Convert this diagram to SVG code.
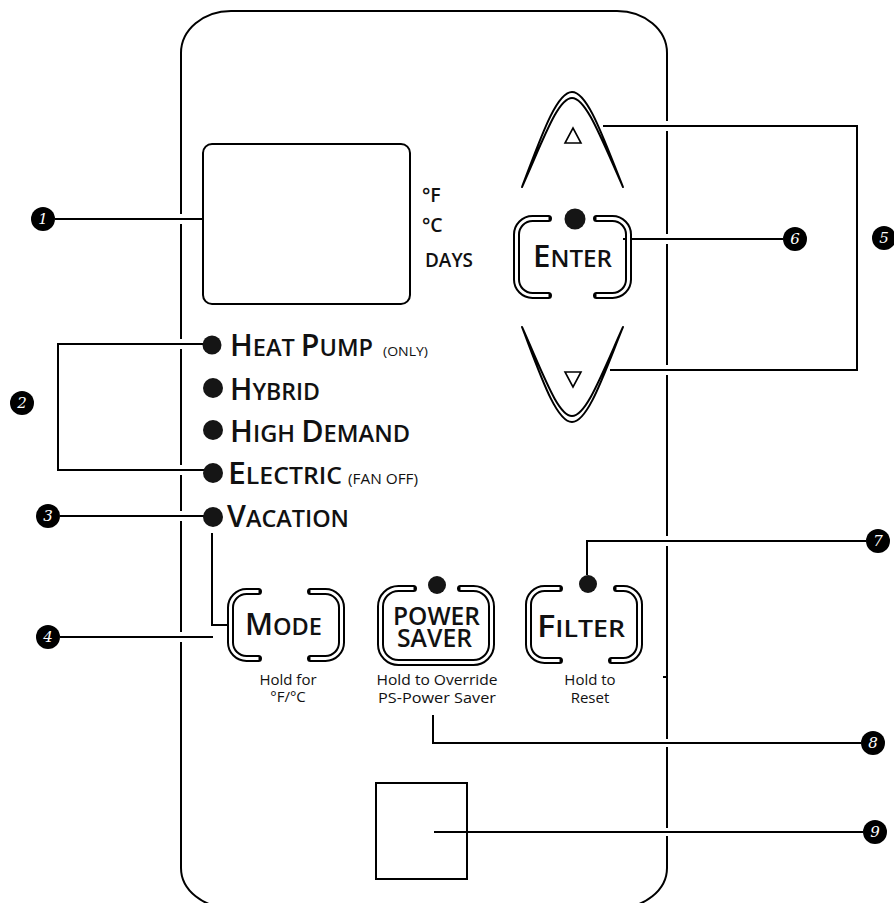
<svg xmlns="http://www.w3.org/2000/svg" width="894" height="903" viewBox="0 0 894 903">
<style>
.ln{fill:none;stroke:#000;stroke-width:2}
.gap{fill:#fff}
.bo{fill:none;stroke:#000;stroke-width:7;stroke-linecap:round;stroke-linejoin:round}
.bi{fill:none;stroke:#fff;stroke-width:3;stroke-linecap:butt;stroke-linejoin:round}
.led{fill:#151515}
.t{font-family:"Open Sans","Liberation Sans",sans-serif;font-weight:600;fill:#111}
.sc{font-size:24px}
.bc{font-size:31px}
.sm{font-family:"Open Sans","Liberation Sans",sans-serif;font-weight:400;fill:#111}
.sub{font-family:"Open Sans","Liberation Sans",sans-serif;font-weight:400;font-size:15px;fill:#111;text-anchor:middle}
.nc{fill:#000}
.nt{font-family:"DejaVu Serif","Liberation Serif",serif;font-style:italic;font-size:15px;fill:#fff;text-anchor:middle}
.arr{fill:#fff;stroke:#000;stroke-width:2;stroke-linejoin:round}
.tri{fill:none;stroke:#000;stroke-width:1.6;stroke-linejoin:miter}
</style>
<rect width="894" height="903" fill="#fff"/>
<g id="panel">
<path class="ln" d="M 231 11 H 617 A 50 42 0 0 1 667 53 V 868 A 50 40 0 0 1 617 908 H 231 A 50 40 0 0 1 181 868 V 53 A 50 42 0 0 1 231 11 Z"/>
<path class="ln" d="M 663 677 H 667" stroke-width="1.5"/>
<g class="gap">
<rect x="178" y="214" width="6" height="10"/>
<rect x="178" y="339" width="6" height="10"/>
<rect x="178" y="465" width="6" height="10"/>
<rect x="178" y="511" width="6" height="10"/>
<rect x="178" y="632" width="6" height="10"/>
<rect x="664" y="121" width="6" height="10"/>
<rect x="664" y="234" width="6" height="10"/>
<rect x="664" y="365" width="6" height="10"/>
<rect x="664" y="536" width="6" height="10"/>
<rect x="664" y="739" width="6" height="8"/>
<rect x="664" y="828" width="6" height="8"/>
</g>
</g>
<g id="connectors">
<path class="ln" d="M 55 219 H 203"/>
<path class="ln" d="M 212 344 H 58 V 470 H 213"/>
<path class="ln" d="M 60 516 H 213"/>
<path class="ln" d="M 212 533 V 625 H 227"/>
<path class="ln" d="M 60 637 H 213"/>
<path class="ln" d="M 603 126 H 857 V 370 H 610"/>
<path class="ln" d="M 623 239 H 783"/>
<path class="ln" d="M 587 575 V 541 H 866"/>
<path class="ln" d="M 433 715 V 743 H 861"/>
<path class="ln" d="M 434 832 H 863"/>
</g>
<g id="display">
<rect class="ln" x="203" y="144" width="207" height="160" rx="9"/>
</g>
<g id="units">
<text class="t" x="422" y="202" font-size="19.5">°F</text>
<text class="t" x="422" y="232" font-size="19.5">°C</text>
<text class="t" x="425" y="267" font-size="19.5" textLength="48" lengthAdjust="spacingAndGlyphs">DAYS</text>
</g>
<g id="mode-leds">
<circle class="led" cx="212" cy="345" r="9.5"/>
<circle class="led" cx="213" cy="388" r="10"/>
<circle class="led" cx="213" cy="430" r="10"/>
<circle class="led" cx="213" cy="473" r="10"/>
<circle class="led" cx="213" cy="517" r="10"/>
<text class="t sc" x="230" y="356" textLength="143" lengthAdjust="spacingAndGlyphs"><tspan class="bc">H</tspan>EAT <tspan class="bc">P</tspan>UMP</text>
<text class="sm" x="383" y="356" font-size="13.5" textLength="45" lengthAdjust="spacingAndGlyphs">(ONLY)</text>
<text class="t sc" x="230" y="400" textLength="90" lengthAdjust="spacingAndGlyphs"><tspan class="bc">H</tspan>YBRID</text>
<text class="t sc" x="230" y="442" textLength="180" lengthAdjust="spacingAndGlyphs"><tspan class="bc">H</tspan>IGH <tspan class="bc">D</tspan>EMAND</text>
<text class="t sc" x="228" y="484" textLength="114" lengthAdjust="spacingAndGlyphs"><tspan class="bc">E</tspan>LECTRIC</text>
<text class="sm" x="348" y="484" font-size="14.5" textLength="70" lengthAdjust="spacingAndGlyphs">(FAN OFF)</text>
<text class="t sc" x="227" y="527" textLength="122" lengthAdjust="spacingAndGlyphs"><tspan class="bc">V</tspan>ACATION</text>
</g>
<g id="up-button">
<path class="arr" d="M 522 187 C 540 140 556 92 572 92 C 588 92 604 140 623 187 C 601 138 586 98 572 98 C 558 98 544 138 522 187 Z"/>
<polygon class="tri" points="565,143 581,143 573,128"/>
</g>
<g id="down-button">
<path class="arr" transform="matrix(1 0 0 -1 0 514)" d="M 522 187 C 540 140 556 92 572 92 C 588 92 604 140 623 187 C 601 138 586 98 572 98 C 558 98 544 138 522 187 Z"/>
<polygon class="tri" points="565,372 581,372 573,387"/>
</g>
<g id="enter-button">
<path class="bo" d="M 596.5 218.5 H 612.5 A 16 16 0 0 1 628.5 234.5 V 279.5 A 16 16 0 0 1 612.5 295.5 H 596.5 M 548.5 295.5 H 532.5 A 16 16 0 0 1 516.5 279.5 V 234.5 A 16 16 0 0 1 532.5 218.5 H 548.5"/>
<path class="bi" d="M 596.5 218.5 H 612.5 A 16 16 0 0 1 628.5 234.5 V 279.5 A 16 16 0 0 1 612.5 295.5 H 596.5 M 548.5 295.5 H 532.5 A 16 16 0 0 1 516.5 279.5 V 234.5 A 16 16 0 0 1 532.5 218.5 H 548.5"/>
<circle class="led" cx="575" cy="219" r="10.5"/>
<text class="t sc" x="533" y="267" textLength="79" lengthAdjust="spacingAndGlyphs"><tspan class="bc">E</tspan>NTER</text>
</g>
<g id="mode-button">
<path class="bo" d="M 310.5 591.5 H 325.5 A 16 16 0 0 1 341.5 607.5 V 642.5 A 16 16 0 0 1 325.5 658.5 H 310.5 M 258.5 658.5 H 246.5 A 16 16 0 0 1 230.5 642.5 V 607.5 A 16 16 0 0 1 246.5 591.5 H 258.5"/>
<path class="bi" d="M 310.5 591.5 H 325.5 A 16 16 0 0 1 341.5 607.5 V 642.5 A 16 16 0 0 1 325.5 658.5 H 310.5 M 258.5 658.5 H 246.5 A 16 16 0 0 1 230.5 642.5 V 607.5 A 16 16 0 0 1 246.5 591.5 H 258.5"/>
<text class="t sc" x="245" y="635" textLength="77" lengthAdjust="spacingAndGlyphs"><tspan class="bc">M</tspan>ODE</text>
<text class="sub" x="288" y="685">Hold for</text>
<text class="sub" x="288" y="702">°F/°C</text>
</g>
<g id="power-saver-button">
<path class="bo" d="M 460.5 588.5 H 473.5 A 18 18 0 0 1 491.5 606.5 V 644.5 A 18 18 0 0 1 473.5 662.5 H 398.5 A 18 18 0 0 1 380.5 644.5 V 606.5 A 18 18 0 0 1 398.5 588.5 H 413.5"/>
<path class="bi" d="M 460.5 588.5 H 473.5 A 18 18 0 0 1 491.5 606.5 V 644.5 A 18 18 0 0 1 473.5 662.5 H 398.5 A 18 18 0 0 1 380.5 644.5 V 606.5 A 18 18 0 0 1 398.5 588.5 H 413.5"/>
<circle class="led" cx="437" cy="585" r="9"/>
<text class="t" x="393" y="625" font-size="24.5" textLength="87" lengthAdjust="spacingAndGlyphs">POWER</text>
<text class="t" x="397" y="647" font-size="24.5" textLength="75" lengthAdjust="spacingAndGlyphs">SAVER</text>
<text class="sub" x="437" y="685" textLength="121" lengthAdjust="spacingAndGlyphs">Hold to Override</text>
<text class="sub" x="437" y="703" textLength="118" lengthAdjust="spacingAndGlyphs">PS-Power Saver</text>
</g>
<g id="filter-button">
<path class="bo" d="M 616.5 588.5 H 623.5 A 16 16 0 0 1 639.5 604.5 V 644.5 A 16 16 0 0 1 623.5 660.5 H 611.5 M 559.5 660.5 H 544.5 A 16 16 0 0 1 528.5 644.5 V 604.5 A 16 16 0 0 1 544.5 588.5 H 559.5"/>
<path class="bi" d="M 616.5 588.5 H 623.5 A 16 16 0 0 1 639.5 604.5 V 644.5 A 16 16 0 0 1 623.5 660.5 H 611.5 M 559.5 660.5 H 544.5 A 16 16 0 0 1 528.5 644.5 V 604.5 A 16 16 0 0 1 544.5 588.5 H 559.5"/>
<circle class="led" cx="588" cy="584" r="9"/>
<text class="t sc" x="537" y="637" textLength="88" lengthAdjust="spacingAndGlyphs"><tspan class="bc">F</tspan>ILTER</text>
<text class="sub" x="590" y="685">Hold to</text>
<text class="sub" x="590" y="703">Reset</text>
</g>
<g id="sensor">
<rect class="ln" x="376" y="783" width="91" height="96"/>
</g>
<g id="callouts">
<g id="c1"><circle class="nc" cx="43" cy="219" r="12"/><text class="nt" x="43" y="224">1</text></g>
<g id="c2"><circle class="nc" cx="22" cy="403" r="12"/><text class="nt" x="22" y="408">2</text></g>
<g id="c3"><circle class="nc" cx="48" cy="516" r="12"/><text class="nt" x="48" y="521">3</text></g>
<g id="c4"><circle class="nc" cx="48" cy="637" r="12"/><text class="nt" x="48" y="642">4</text></g>
<g id="c5"><circle class="nc" cx="884" cy="238" r="12"/><text class="nt" x="884" y="243">5</text></g>
<g id="c6"><circle class="nc" cx="795" cy="239" r="12"/><text class="nt" x="795" y="244">6</text></g>
<g id="c7"><circle class="nc" cx="878" cy="541" r="12"/><text class="nt" x="878" y="546">7</text></g>
<g id="c8"><circle class="nc" cx="873" cy="743" r="12"/><text class="nt" x="873" y="748">8</text></g>
<g id="c9"><circle class="nc" cx="875" cy="832" r="12"/><text class="nt" x="875" y="837">9</text></g>
</g>
</svg>
